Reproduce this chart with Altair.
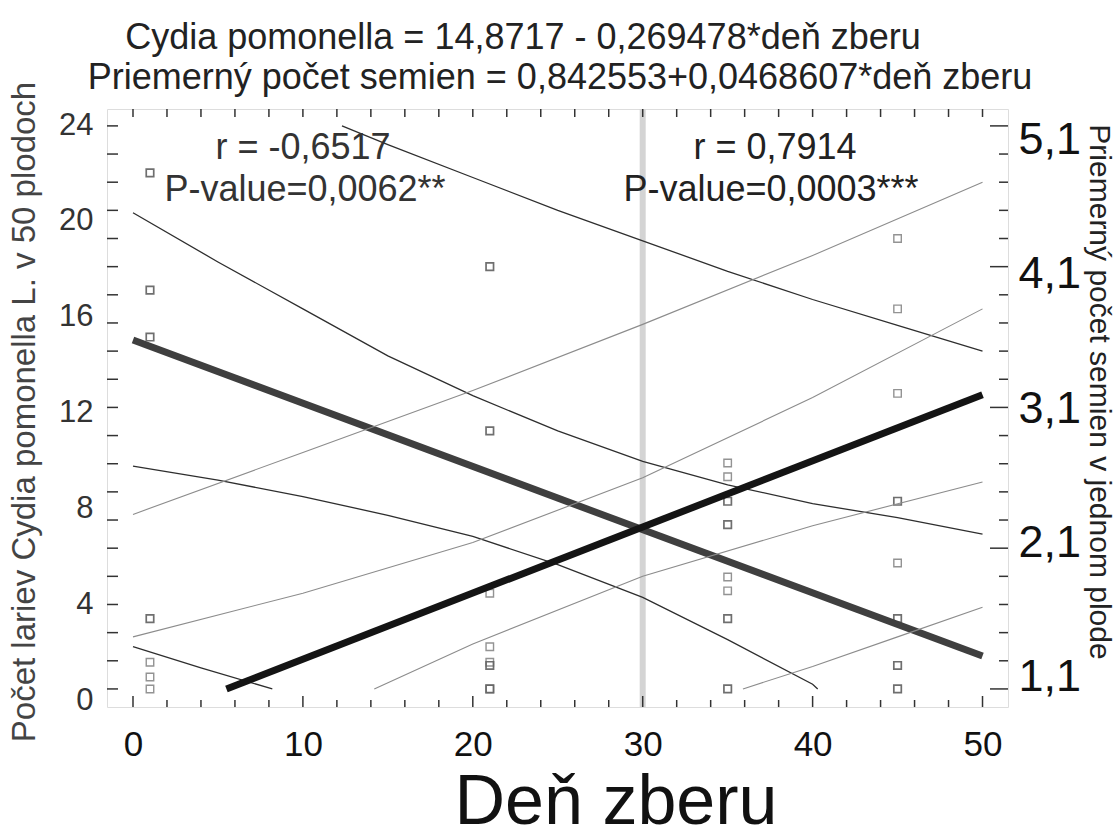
import altair as alt
import pandas as pd

FONT = "Liberation Sans"
W, H = 901, 598

# ---------------- data ----------------
# observations: Cydia pomonella larvae (left axis)
cyd_day = [1, 1, 1, 1, 21, 21, 21, 21, 35, 35, 35, 35, 45, 45, 45, 45]
cyd_val = [22, 17, 15, 3, 18, 11, 1, 0, 8, 7, 3, 0, 8, 3, 1, 0]
# observations: mean number of seeds per fruit (right axis)
seed_day = [1, 1, 1, 21, 21, 21, 21, 35, 35, 35, 35, 45, 45, 45, 45]
seed_val = [1.29, 1.185, 1.10, 1.78, 1.40, 1.29, 1.10, 2.705, 2.607, 1.895, 1.797, 4.30, 3.80, 3.20, 1.995]

# fitted lines
cyd_fit_x = [0, 50]
cyd_fit_y = [14.87, 1.40]
seed_fit_x = [5.5, 50]
seed_fit_y = [1.10, 3.19]

# Cydia limits (prediction / confidence)
cyd_up_x = [12.3, 15, 20, 25, 30, 35, 40, 45, 50]
cyd_up_y = [24.0, 23.2, 21.8, 20.4, 19.1, 17.8, 16.6, 15.5, 14.4]
cyd_uc_x = [0, 5, 10, 15, 20, 25, 30, 35, 40, 45, 50]
cyd_uc_y = [20.3, 18.2, 16.2, 14.2, 12.5, 11.0, 9.7, 8.7, 7.9, 7.3, 6.6]
cyd_lc_x = [0, 5, 10, 15, 20, 25, 30, 35, 40, 40.3]
cyd_lc_y = [9.5, 8.9, 8.2, 7.4, 6.5, 5.3, 3.9, 2.1, 0.2, 0.0]
cyd_lp_x = [0, 4, 8.2]
cyd_lp_y = [1.8, 0.9, 0.0]

# seed limits (prediction / confidence)
seed_up_x = [0, 10, 20, 30, 40, 50]
seed_up_y = [2.34, 2.78, 3.22, 3.69, 4.18, 4.70]
seed_uc_x = [0, 10, 20, 30, 40, 50]
seed_uc_y = [1.47, 1.78, 2.14, 2.60, 3.17, 3.80]
seed_lc_x = [14.2, 20, 30, 40, 50]
seed_lc_y = [1.10, 1.42, 1.90, 2.26, 2.57]
seed_lp_x = [35.9, 40, 45, 50]
seed_lp_y = [1.10, 1.26, 1.47, 1.68]

marker_day = [30]

# axis ticks / labels
x_labels = [0, 10, 20, 30, 40, 50]
x_ticks_minor = [2, 4, 6, 8, 12, 14, 16, 18, 22, 24, 26, 28, 32, 34, 36, 38, 42, 44, 46, 48]
x_ticks_all = x_labels + x_ticks_minor
left_labels = [0, 4, 8, 12, 16, 20, 24]
right_labels = [1.1, 2.1, 3.1, 4.1, 5.1]
right_ticks_minor = [1.3, 1.5, 1.7, 1.9, 2.3, 2.5, 2.7, 2.9, 3.3, 3.5, 3.7, 3.9,
                     4.3, 4.5, 4.7, 4.9]
right_ticks_all = right_labels + right_ticks_minor

title_1 = "Cydia pomonella = 14,8717 - 0,269478*deň zberu"
title_2 = "Priemerný počet semien = 0,842553+0,0468607*deň zberu"
x_title = "Deň zberu"
y_left_title = "Počet lariev Cydia pomonella L. v 50 plodoch"
y_right_title = "Priemerný počet semien v jednom plode"
ann_left = ["r = -0,6517", "P-value=0,0062**"]
ann_right = ["r = 0,7914", "P-value=0,0003***"]

# ---------------- scales ----------------
xs = alt.Scale(domain=[-1.53, 51.5], nice=False, zero=False)
ys_c = alt.Scale(domain=[-0.77, 24.72], nice=False, zero=False)
ys_s = alt.Scale(domain=[0.9717, 5.22], nice=False, zero=False)
# label placement scales (labels in the original sit slightly off their ticks)
ys_cl = alt.Scale(domain=[-0.29, 24.67], nice=False, zero=False)
ys_sl = alt.Scale(domain=[0.869, 5.331], nice=False, zero=False)


def lines_df(parts):
    rows = []
    for name, xs_, ys_ in parts:
        for i, (a, b) in enumerate(zip(xs_, ys_)):
            rows.append({"line": name, "x": a, "y": b, "o": i})
    return pd.DataFrame(rows)


cyd_pts = pd.DataFrame({"x": cyd_day, "y": cyd_val})
seed_pts = pd.DataFrame({"x": seed_day, "y": seed_val})
cyd_bands = lines_df([("up", cyd_up_x, cyd_up_y), ("uc", cyd_uc_x, cyd_uc_y),
                      ("lc", cyd_lc_x, cyd_lc_y), ("lp", cyd_lp_x, cyd_lp_y)])
seed_bands = lines_df([("up", seed_up_x, seed_up_y), ("uc", seed_uc_x, seed_uc_y),
                       ("lc", seed_lc_x, seed_lc_y), ("lp", seed_lp_x, seed_lp_y)])
cyd_fit = lines_df([("fit", cyd_fit_x, cyd_fit_y)])
seed_fit = lines_df([("fit", seed_fit_x, seed_fit_y)])

# ---------------- base layer (no y scale) ----------------
vline = alt.Chart(pd.DataFrame({"x": marker_day})).mark_rule(
    color="#d4d4d4", strokeWidth=6).encode(
    x=alt.X("x:Q", scale=xs, axis=alt.Axis(values=x_labels, tickSize=0, domain=False, grid=False,
                                           labelFontSize=35, labelColor="#111", labelPadding=20,
                                           labelFont=FONT, title=None)),
    y=alt.value(0), y2=alt.value(H))

tick_color = "#333"
bot_major = alt.Chart(pd.DataFrame({"x": x_labels})).mark_rule(color=tick_color, strokeWidth=1.5).encode(
    x=alt.X("x:Q", scale=xs), y=alt.value(H), y2=alt.value(H - 11))
bot_minor = alt.Chart(pd.DataFrame({"x": x_ticks_minor})).mark_rule(color=tick_color, strokeWidth=1.5).encode(
    x=alt.X("x:Q", scale=xs), y=alt.value(H), y2=alt.value(H - 7))
top_ticks = alt.Chart(pd.DataFrame({"x": x_ticks_all})).mark_rule(color=tick_color, strokeWidth=1.5).encode(
    x=alt.X("x:Q", scale=xs), y=alt.value(0), y2=alt.value(8))

# ---------------- Cydia group (left scale) ----------------
c_bands = alt.Chart(cyd_bands).mark_line(color="#2e2e2e", strokeWidth=1.3).encode(
    x=alt.X("x:Q", scale=xs), y=alt.Y("y:Q", scale=ys_c, axis=None),
    detail="line:N", order="o:Q")
c_pts = alt.Chart(cyd_pts).mark_point(shape="square", size=56, filled=False, color="#333",
                                      strokeWidth=1.7).encode(
    x=alt.X("x:Q", scale=xs), y=alt.Y("y:Q", scale=ys_c, axis=None))
c_fit = alt.Chart(cyd_fit).mark_line(color="#3f3f3f", strokeWidth=7).encode(
    x=alt.X("x:Q", scale=xs), y=alt.Y("y:Q", scale=ys_c, axis=None), order="o:Q")
cyd_group = alt.layer(c_bands, c_pts, c_fit)

# ---------------- seed group (right scale) ----------------
s_bands = alt.Chart(seed_bands).mark_line(color="#8c8c8c", strokeWidth=1.1).encode(
    x=alt.X("x:Q", scale=xs), y=alt.Y("y:Q", scale=ys_s, axis=None),
    detail="line:N", order="o:Q")
s_pts = alt.Chart(seed_pts).mark_point(shape="square", size=56, filled=False, color="#666",
                                       strokeWidth=1.4).encode(
    x=alt.X("x:Q", scale=xs), y=alt.Y("y:Q", scale=ys_s, axis=None))
s_fit = alt.Chart(seed_fit).mark_line(color="#141414", strokeWidth=7).encode(
    x=alt.X("x:Q", scale=xs), y=alt.Y("y:Q", scale=ys_s, axis=None), order="o:Q")
rt_major = alt.Chart(pd.DataFrame({"y": right_labels})).mark_rule(
    color=tick_color, strokeWidth=1.5).encode(
    y=alt.Y("y:Q", scale=ys_s, axis=None), x=alt.value(W), x2=alt.value(W - 18))
rt_minor = alt.Chart(pd.DataFrame({"y": right_ticks_minor})).mark_rule(
    color=tick_color, strokeWidth=1.5).encode(
    y=alt.Y("y:Q", scale=ys_s, axis=None), x=alt.value(W), x2=alt.value(W - 9))
lt_all = alt.Chart(pd.DataFrame({"y": right_ticks_all})).mark_rule(
    color=tick_color, strokeWidth=1.5).encode(
    y=alt.Y("y:Q", scale=ys_s, axis=None), x=alt.value(0), x2=alt.value(11))
seed_group = alt.layer(s_bands, s_pts, s_fit, rt_major, rt_minor, lt_all)

# ---------------- axis label groups ----------------
left_lab = alt.Chart(pd.DataFrame({"y": left_labels})).mark_point(opacity=0).encode(
    x=alt.value(0),
    y=alt.Y("y:Q", scale=ys_cl,
            axis=alt.Axis(values=left_labels, orient="left", tickSize=0, domain=False, grid=False,
                          labelFontSize=31, labelColor="#333", labelPadding=14, labelFont=FONT,
                          title=None)))
right_lab = alt.Chart(pd.DataFrame({"y": right_labels})).mark_point(opacity=0).encode(
    x=alt.value(W),
    y=alt.Y("y:Q", scale=ys_sl,
            axis=alt.Axis(values=right_labels, orient="right", tickSize=0, domain=False, grid=False,
                          labelFontSize=45, labelColor="#111", labelPadding=10, labelFont=FONT,
                          labelExpr="replace(format(datum.value, '.1f'), '.', ',')", title=None)))


# ---------------- texts ----------------
def text_layer(txt, x, y, size, color="#222", angle=0):
    return alt.Chart(pd.DataFrame({"t": [txt]})).mark_text(
        fontSize=size, font=FONT, color=color, angle=angle, align="center",
        baseline="middle").encode(x=alt.value(x), y=alt.value(y), text="t:N")


texts = alt.layer(
    text_layer(title_1, 416, -71, 36),
    text_layer(title_2, 453, -31, 36),
    text_layer(x_title, 509, 694, 70, color="#111"),
    text_layer(y_left_title, -82, 303, 33, color="#444", angle=270),
    text_layer(y_right_title, 992, 283, 30, color="#222", angle=90),
    text_layer(ann_left[0], 196, 39, 36, color="#333"),
    text_layer(ann_left[1], 198, 81, 36, color="#333"),
    text_layer(ann_right[0], 668, 39, 36, color="#222"),
    text_layer(ann_right[1], 664, 81, 36, color="#222"),
)

chart = alt.layer(
    alt.layer(vline, bot_major, bot_minor, top_ticks),
    cyd_group,
    seed_group,
    left_lab,
    right_lab,
    texts,
).resolve_scale(y="independent").properties(
    width=W, height=H,
    padding={"left": 107, "top": 109, "right": 112, "bottom": 131},
    autosize=alt.AutoSizeParams(type="none"),
).configure_view(stroke="#333", strokeWidth=2).configure(background="white")

chart.save("out.html", embed_options={"renderer": "svg", "actions": False})
